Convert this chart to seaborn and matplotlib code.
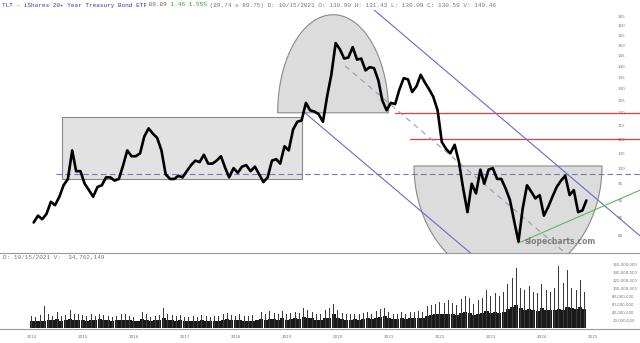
import numpy as np
import pandas as pd
import matplotlib
matplotlib.use("Agg")
import matplotlib.pyplot as plt
import matplotlib.dates as mdates
from matplotlib.patches import Polygon, Rectangle
from matplotlib.ticker import FixedLocator, FuncFormatter, NullLocator
import seaborn as sns

# ---------------- data (monthly) ----------------
months = pd.date_range("2014-04-30", periods=131, freq="ME")
close = [
    83.6, 85.5, 84.5, 86.0, 89.5, 88.5, 91.0, 94.5, 96.5,
    106.0, 99.0, 99.0, 95.0, 93.0, 91.0, 94.0, 94.5, 97.0, 97.0, 96.0, 96.5,
    101.0, 106.0, 104.0, 104.0, 105.0, 111.0, 114.0, 112.0, 110.5, 106.0, 98.0, 96.5,
    96.5, 97.5, 97.0, 99.0, 101.0, 102.5, 102.0, 104.5, 101.5, 101.5, 102.5, 104.0,
    100.0, 97.0, 100.0, 98.5, 100.5, 101.0, 99.0, 100.5, 98.0, 95.5, 97.0, 102.5,
    103.0, 101.5, 107.5, 106.0, 113.5, 116.5, 117.0, 124.0, 121.0, 120.5, 119.5, 116.5,
    127.0, 136.0, 151.0, 148.0, 143.5, 144.0, 149.0, 143.0, 143.5, 138.0, 139.5, 139.0,
    133.5, 125.0, 121.0, 124.0, 123.5, 129.5, 134.5, 134.0, 128.5, 131.0, 136.0, 132.5,
    129.5, 126.5, 121.0, 109.0, 106.5, 105.0, 108.0, 102.0, 93.5, 86.5, 95.0, 92.0,
    99.5, 95.0, 99.5, 100.0, 96.5, 96.5, 93.5, 90.0, 84.0, 78.5, 87.5, 94.5,
    92.5, 90.5, 91.5, 85.5, 88.0, 91.0, 94.0, 96.0, 97.5, 91.5, 93.0, 86.5,
    87.0, 89.89,
]
# volume in millions of shares: typical daily and peak daily per month
vol_typ = [
    18, 17, 17, 18, 19, 19, 22, 18, 19,
    22, 20, 20, 19, 18, 21, 19, 22, 19, 19, 18, 19,
    21, 20, 19, 18, 18, 22, 20, 18, 19, 20, 25, 20,
    19, 18, 19, 18, 17, 18, 17, 19, 18, 17, 17, 18,
    20, 22, 19, 19, 20, 18, 18, 18, 21, 22, 21, 23,
    22, 20, 24, 20, 22, 24, 22, 28, 26, 24, 20, 21,
    24, 26, 35, 26, 22, 20, 20, 22, 20, 22, 24, 22,
    25, 28, 30, 24, 22, 22, 24, 22, 24, 24, 25, 24,
    30, 32, 34, 36, 34, 36, 34, 32, 38, 40, 38, 32,
    36, 38, 42, 38, 40, 38, 40, 48, 52, 58, 50, 46,
    48, 44, 42, 50, 46, 44, 46, 48, 44, 52, 50, 48,
    52, 48,
]
vol_peak = [
    30, 28, 32, 55, 34, 30, 40, 30, 32,
    45, 36, 34, 32, 30, 36, 30, 34, 32, 30, 28, 30,
    34, 36, 30, 28, 30, 40, 34, 28, 30, 32, 50, 34,
    32, 30, 32, 28, 28, 30, 28, 32, 30, 28, 30, 30,
    34, 38, 32, 30, 34, 30, 30, 32, 36, 40, 36, 42,
    38, 34, 42, 34, 38, 40, 38, 50, 44, 40, 34, 36,
    44, 50, 60, 44, 38, 34, 34, 36, 34, 38, 40, 36,
    42, 48, 50, 40, 36, 36, 40, 36, 40, 40, 42, 40,
    55, 58, 60, 65, 62, 70, 62, 58, 72, 80, 74, 60,
    70, 75, 95, 80, 88, 80, 90, 110, 125, 150, 100, 95,
    105, 90, 88, 110, 95, 90, 100, 155, 112, 145, 100, 95,
    120, 90,
]
price_ticks = list(range(80, 170, 5))
vol_ticks = [20, 40, 60, 80, 100, 120, 140, 160]
years = list(range(2014, 2026))

# ---------------- style ----------------
sns.set_theme(style="white")
plt.rcParams["font.family"] = ["DejaVu Sans"]

fig = plt.figure(figsize=(6.4, 3.43), dpi=100)
ax = fig.add_axes([0, 90 / 343, 1, 243 / 343])
axv = fig.add_axes([0, 14 / 343, 1, 73 / 343], sharex=ax)

def dn(s):
    return mdates.date2num(pd.Timestamp(s))

def half_ellipse(center, half_days, base, edge, n=120):
    th = np.linspace(0, np.pi, n)
    xs = dn(center) + half_days * np.cos(th)
    ys = base * (edge / base) ** np.sin(th)
    return np.column_stack([xs, ys])

ax.set_yscale("log")

GRAY_FILL = "#dcdcdc"
GRAY_EDGE = "#8a8a8a"

# range box 2014-2019
ax.add_patch(Rectangle((dn("2014-11-18"), 96.5), dn("2019-08-03") - dn("2014-11-18"),
                       118.3 - 96.5, facecolor="#e2e2e2", edgecolor=GRAY_EDGE, lw=0.8, zorder=1))
# top half-dome 2020
ax.add_patch(Polygon(half_ellipse("2020-03-13", 397, 120.0, 165.8), closed=True,
                     facecolor=GRAY_FILL, edgecolor=GRAY_EDGE, lw=0.8, zorder=1))
# bottom bowl 2022-2025
ax.add_patch(Polygon(half_ellipse("2023-08-17", 673, 100.7, 69.0), closed=True,
                     facecolor=GRAY_FILL, edgecolor=GRAY_EDGE, lw=0.8, zorder=1))

# horizontal dashed support line
ax.plot(pd.to_datetime(["2014-10-06", "2026-03-19"]), [98.0, 98.0],
        color="#7777bb", lw=0.8, ls=(0, (5, 3)), zorder=2)
# red horizontals
ax.plot(pd.to_datetime(["2021-05-30", "2026-03-19"]), [120.0, 120.0], color="#e03c3c", lw=0.9, zorder=2)
ax.plot(pd.to_datetime(["2021-09-17", "2026-03-19"]), [110.0, 110.0], color="#e03c3c", lw=0.9, zorder=2)
# descending channel
ax.plot(pd.to_datetime(["2020-10-06", "2026-03-19"]), [174.2, 80.0], color="#6a6acc", lw=0.8, zorder=2)
ax.plot(pd.to_datetime(["2019-08-24", "2023-01-29"]), [120.0, 73.6], color="#6a6acc", lw=0.8, zorder=2)
ax.plot(pd.to_datetime(["2020-06-07", "2025-03-28"]), [140.0, 70.5], color="#9a9ab8", lw=0.8,
        ls=(0, (5, 4)), zorder=2)
# green rising line
ax.plot(pd.to_datetime(["2023-10-28", "2026-03-19"]), [78.1, 93.0], color="#5cb85c", lw=0.8, zorder=2)

# price
sns.lineplot(x=months, y=close, ax=ax, color="black", lw=1.9, zorder=5)

ax.set_xlim(pd.Timestamp("2013-09-01"), pd.Timestamp("2026-03-19"))
ax.set_ylim(75.6, 168.4)
ax.yaxis.set_major_locator(FixedLocator(price_ticks))
ax.yaxis.set_minor_locator(NullLocator())
ax.yaxis.set_major_formatter(FuncFormatter(lambda v, p: f"{v:.0f}"))
ax.yaxis.tick_right()
ax.tick_params(axis="y", which="both", length=0, pad=-16, labelsize=3, labelcolor="#777777")
ax.tick_params(axis="x", which="both", length=0, labelbottom=False)
for s in ["top", "left", "right"]:
    ax.spines[s].set_visible(False)
ax.spines["bottom"].set_color("#999999")
ax.spines["bottom"].set_linewidth(0.8)
ax.set_xlabel("")
ax.set_ylabel("")

ax.text(pd.Timestamp("2024-08-24"), 78.6, "slopecharts.com", ha="center", va="center",
        fontsize=5.5, fontweight="bold", color="#666666", alpha=0.8, zorder=6)

# volume
mid = months - pd.Timedelta(days=15)
axv.bar(mid, vol_typ, width=29, color="#1a1a1a", lw=0, zorder=2)
axv.bar(mid, vol_peak, width=7, color="#3a3a3a", lw=0, zorder=3)
axv.set_ylim(-2.5, 180)
axv.yaxis.set_major_locator(FixedLocator(vol_ticks))
axv.yaxis.set_major_formatter(FuncFormatter(lambda v, p: f"{int(round(v * 1e6)):,}"))
axv.yaxis.tick_right()
axv.tick_params(axis="y", length=0, pad=-20, labelsize=2.8, labelcolor="#777777")
axv.xaxis.set_major_locator(FixedLocator([dn(f"{y}-04-17") for y in years]))
axv.xaxis.set_minor_locator(NullLocator())
axv.xaxis.set_major_formatter(FuncFormatter(lambda v, p: str(mdates.num2date(v).year)))
axv.tick_params(axis="x", length=0, pad=4, labelsize=3, labelcolor="#777777")
for s in ["top", "left", "right"]:
    axv.spines[s].set_visible(False)
axv.spines["bottom"].set_color("#999999")
axv.spines["bottom"].set_linewidth(0.8)
axv.set_facecolor("none")
ax.set_facecolor("none")

# header texts (monospace)
mono = ["Liberation Mono", "DejaVu Sans Mono"]
fs = 4.3
cw = 0.6 * fs * 100 / 72 / 640
pieces = [
    ("TLT - iShares 20+ Year Treasury Bond ETF", "#3a3aa8"),
    (" 89.89", "#666666"),
    (" 1.46 1.55%", "#2e9e2e"),
    (" (89.74 x 89.75) D: 10/15/2021 O: 130.90 H: 131.43 L: 130.09 C: 130.59 V: 149.46", "#777777"),
]
x0 = 2 / 640
for txt, col in pieces:
    fig.text(x0, 1 - 5 / 343, txt, fontsize=fs, family=mono, color=col, va="center", ha="left")
    x0 += len(txt) * cw
fig.text(3 / 640, 1 - 257 / 343, "D: 10/15/2021 V:  34,762,149", fontsize=fs, family=mono,
         color="#777777", va="center", ha="left")

fig.savefig("out.png", dpi=100, facecolor="white")
